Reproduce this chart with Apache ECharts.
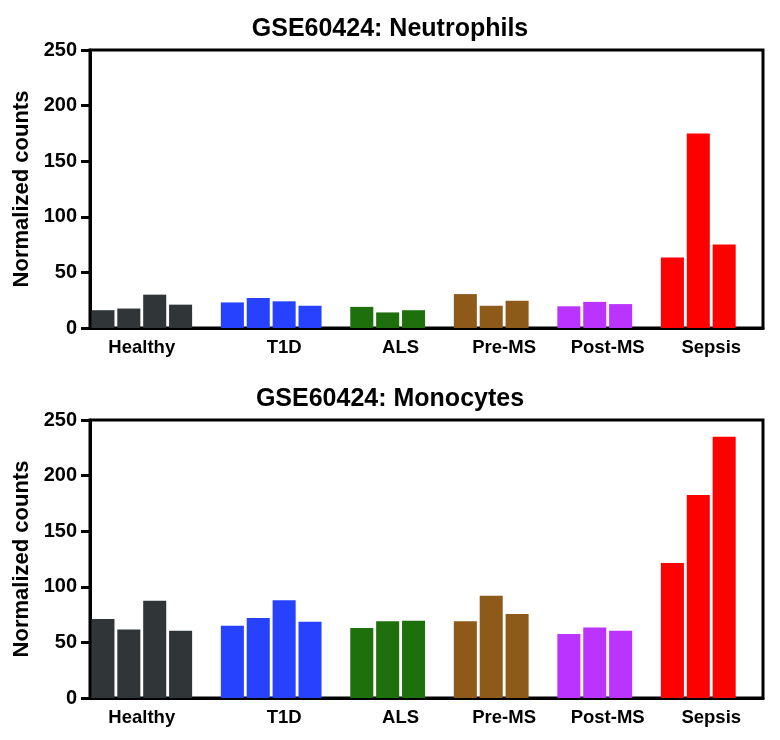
<!DOCTYPE html>
<html>
<head>
<meta charset="utf-8">
<script src="https://cdn.jsdelivr.net/npm/echarts@6/dist/echarts.min.js"></script>
<style>
  html, body { margin: 0; padding: 0; background: #fff; }
  #chart { width: 780px; height: 740px; }
</style>
</head>
<body>
<div id="chart"></div>
<script>
// ---- Data ----
const groups = ['Healthy', 'T1D', 'ALS', 'Pre-MS', 'Post-MS', 'Sepsis'];
const groupColors = ['#303538', '#2642ff', '#1d700b', '#8e5a1a', '#bb33ff', '#ff0000'];
const neutrophilValues = [
  [16, 17.5, 30, 21],
  [23, 27, 24, 20],
  [19, 14, 16],
  [30.5, 20, 24.5],
  [19.5, 23.5, 21.5],
  [63.5, 175, 75]
];
const monocyteValues = [
  [71, 61.5, 87.5, 60.5],
  [65, 72, 88, 68.5],
  [63, 69, 69.5],
  [69, 92, 75.5],
  [57.5, 63.5, 60.5],
  [121.5, 182.5, 235]
];
const panelTitles = ['GSE60424: Neutrophils', 'GSE60424: Monocytes'];
const yAxisTitle = 'Normalized counts';
const yTicks = [0, 50, 100, 150, 200, 250];

// ---- Build slots: each group's bars followed by one empty slot ----
function buildSlots(values) {
  const cats = [], data = [], labelPos = {};
  values.forEach((arr, gi) => {
    const start = cats.length;
    arr.forEach((v, j) => {
      cats.push(groups[gi] + ' ' + (j + 1));
      data.push({ value: v, itemStyle: { color: groupColors[gi] } });
    });
    cats.push('gap' + gi);
    data.push(null);
    // label sits at the boundary after the 2nd bar (half-slot units)
    let k = 2 * start + 4;
    if (groups[gi] === 'T1D') k += 1;
    labelPos[k] = groups[gi];
  });
  const labelCats = [];
  for (let k = 0; k <= cats.length * 2; k++) labelCats.push(labelPos[k] || '');
  return { cats, data, labelCats };
}

const panels = [neutrophilValues, monocyteValues].map(buildSlots);
const gridTops = [50, 420];
const gridHeight = 278;

const font = 'Liberation Sans, Arial, sans-serif';
const option = {
  animation: false,
  backgroundColor: '#fff',
  title: panelTitles.map((t, i) => ({
    text: t,
    left: 'center',
    top: gridTops[i] - 38,
    textStyle: { fontFamily: font, fontWeight: 'bold', fontSize: 25, color: '#000' }
  })),
  grid: gridTops.map(t => ({
    left: 90, right: 17, top: t, height: gridHeight,
    show: true, borderColor: '#000', borderWidth: 3, backgroundColor: 'transparent'
  })),
  xAxis: [],
  yAxis: [],
  series: []
};

panels.forEach((p, i) => {
  option.xAxis.push({
    type: 'category', gridIndex: i, data: p.cats, boundaryGap: true,
    axisLine: { show: true, lineStyle: { color: '#000', width: 3 } },
    axisTick: { show: false },
    axisLabel: { show: false },
    splitLine: { show: false }
  });
  option.xAxis.push({
    type: 'category', gridIndex: i, data: p.labelCats, boundaryGap: false,
    position: 'bottom',
    axisLine: { show: false },
    axisTick: { show: false },
    splitLine: { show: false },
    axisLabel: {
      interval: 0, margin: 10,
      fontFamily: font, fontWeight: 'bold', fontSize: 18.5, color: '#000'
    }
  });
  option.yAxis.push({
    type: 'value', gridIndex: i, min: yTicks[0], max: yTicks[yTicks.length - 1], interval: yTicks[1] - yTicks[0],
    name: yAxisTitle, nameLocation: 'middle', nameGap: 55, nameRotate: 90,
    nameTextStyle: { fontFamily: font, fontWeight: 'bold', fontSize: 22, color: '#000' },
    axisLine: { show: true, lineStyle: { color: '#000', width: 3 } },
    axisTick: { show: true, length: 9, lineStyle: { color: '#000', width: 3 } },
    axisLabel: { margin: 13, fontFamily: font, fontWeight: 'bold', fontSize: 20, color: '#000' },
    splitLine: { show: false }
  });
  option.series.push({
    type: 'bar', xAxisIndex: i * 2, yAxisIndex: i,
    data: p.data, barCategoryGap: '11%'
  });
});

const chart = echarts.init(document.getElementById('chart'), null, { renderer: 'canvas' });
chart.setOption(option);
</script>
</body>
</html>
